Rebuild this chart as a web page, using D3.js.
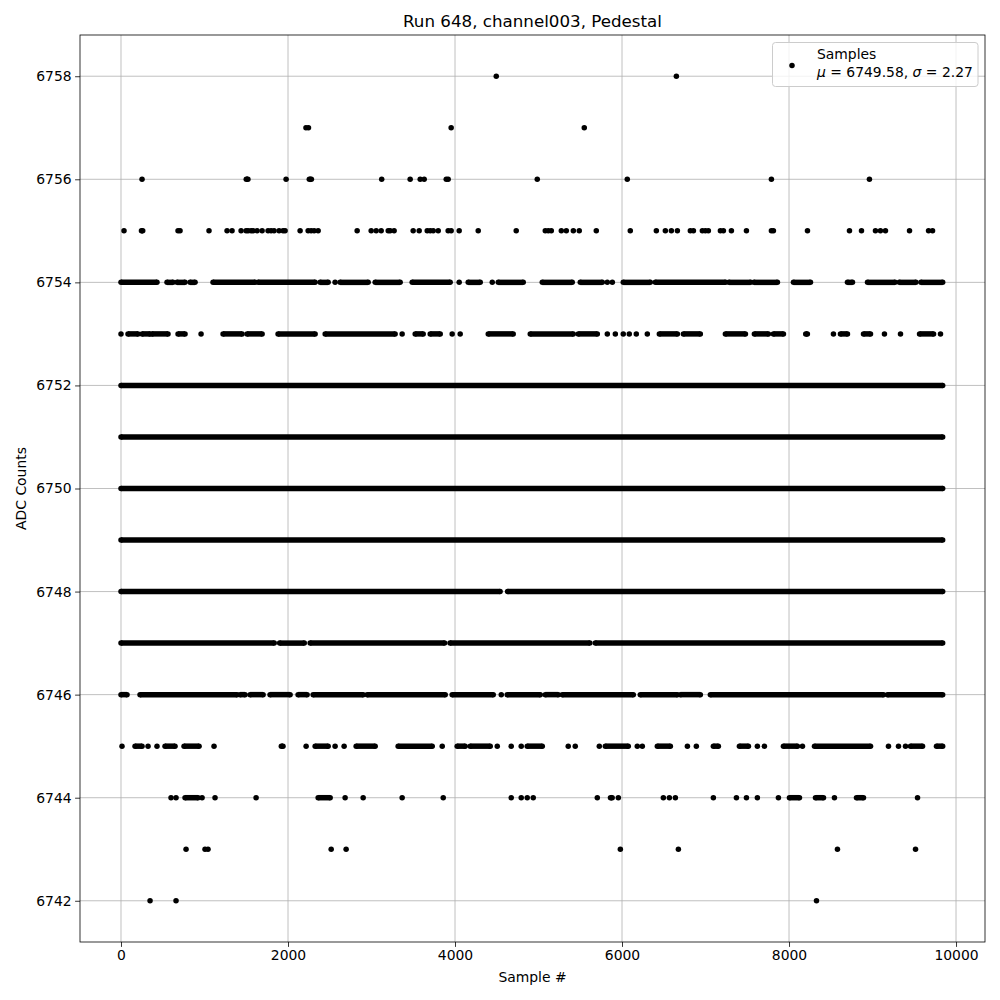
<!DOCTYPE html>
<html><head><meta charset="utf-8">
<script src="https://cdn.jsdelivr.net/npm/d3@7"></script>
<style>body{margin:0;background:#fff}svg{display:block}text{font-family:"DejaVu Sans",sans-serif}</style>
</head><body><svg id="c" width="1000" height="1000"></svg>
<script>
// Each level: list of samples (single numbers) or continuous runs [start,end] of sample indices
const adc6758 = [4494, 6651];
const adc6757 = [2215, 2245, 3954, 5548];
const adc6756 = [252, [1500,1520], 1977, [2255,2280], 3122, 3463, 3583, 3631, 3895, 3918, 4985, 6063, 7789, 8963];
const adc6755 = [36, [245,260], 683, 707, 1054, 1270, 1330, 1438, 1498, 1522, 1558, 1582, 1630, 1690, 1761, 1797, 1833, 1893, 1941, 1965, 2145, 2241, 2277, 2313, 2361, 2828, 2996, 3056, 3116, 3200, 3223, 3271, 3499, 3571, 3667, 3703, 3739, 3799, 3918, 3954, 4050, 4278, 4733, 5081, 5117, 5153, 5273, 5333, 5417, 5488, 5692, 6099, 6411, 6519, 6591, 6663, 6818, 6855, 6962, 6998, 7034, 7178, 7214, 7310, 7490, 7789, 7813, 8221, 8724, 8868, 9035, 9095, 9155, 9443, 9671, 9719];
const adc6754 = [[0,431],[551,623],[671,767],[827,887],[1102,1606],[1642,2325],[2385,2481],2564,[2624,2960],[3044,3343],[3487,3942],4050,[4158,4302],4446,[4518,4817],[5045,5404],[5500,5764],5824,5884,[6015,6339],[6399,7240],[7280,7540],[7580,7861],[8053,8257],[8700,8760],[8940,9270],[9320,9520],[9580,9840]];
const adc6753 = [0,[84,204],[252,348],[371,563],[683,767],959,[1222,1450],[1510,1690],[1881,2325],[2445,3283],3367,[3523,3619],[3703,3823],3966,4062,[4398,4697],[4901,5416],[5476,5704],5824,5920,6015,6087,6171,6303,[6447,6663],[6735,6938],[7238,7478],[7585,7753],[7813,7933],[8200,8220],8532,[8616,8700],[8892,8976],9143,9335,[9563,9731],9814];
const adc6752 = [[0,9840]];
const adc6751 = [[0,9840]];
const adc6750 = [[0,9840]];
const adc6749 = [[0,9840]];
const adc6748 = [[0,4540],[4630,9840]];
const adc6747 = [[0,1835],[1900,2195],[2265,3875],[3940,5615],[5680,9840]];
const adc6746 = [[0,72],[228,1390],[1426,1486],[1546,1702],[1785,2025],[2121,2229],[2301,2900],[2948,3883],[3966,4458],4554,[4625,5021],[5081,5237],[5285,6135],[6219,6663],[6699,6938],[7058,9131],[9179,9840]];
const adc6745 = [12,[168,252],324,431,[527,647],[755,935],1114,[1920,1940],2217,[2325,2481],2564,2672,[2816,3044],[3319,3727],3847,[4026,4122],[4182,4422],4506,4673,4793,[4865,5045],5356,5440,5728,[5800,6075],6183,6243,[6423,6579],6783,6890,[7094,7154],[7406,7514],7621,7705,[7933,8101],8161,[8305,8976],9191,9311,9395,[9455,9599],[9766,9840]];
const adc6744 = [599,659,[767,923],971,1126,1618,[2361,2505],2684,2900,3367,3859,4673,4793,4865,4937,5704,[5862,5882],5956,6495,6567,6639,7094,7370,7490,7621,7873,[8005,8125],[8317,8413],8544,[8808,8892],9539];
const adc6743 = [779, 1006, 1042, 2517, 2696, 5980, 6675, 8580, 9515];
const adc6742 = [348, 659, 8329];

const levels = [
  [6758, adc6758],[6757, adc6757],[6756, adc6756],[6755, adc6755],[6754, adc6754],
  [6753, adc6753],[6752, adc6752],[6751, adc6751],[6750, adc6750],[6749, adc6749],
  [6748, adc6748],[6747, adc6747],[6746, adc6746],[6745, adc6745],[6744, adc6744],
  [6743, adc6743],[6742, adc6742]
];
const xTicks = [0, 2000, 4000, 6000, 8000, 10000];
const yTicks = [6742, 6744, 6746, 6748, 6750, 6752, 6754, 6756, 6758];
const title = "Run 648, channel003, Pedestal";
const meanVal = "6749.58", sigmaVal = "2.27";

const svg = d3.select("#c");
const L = 80, R = 985, T = 35, B = 942;
const x = d3.scaleLinear().domain([-491, 10347]).range([L, R]);
const y = d3.scaleLinear().domain([6741.2, 6758.8]).range([B, T]);
const fs = 13.9;

// grid
const g = svg.append("g");
g.selectAll(".gx").data(xTicks).join("line")
  .attr("x1", d => x(d)).attr("x2", d => x(d)).attr("y1", T).attr("y2", B)
  .attr("stroke", "#b0b0b0").attr("stroke-width", 0.8);
g.selectAll(".gy").data(yTicks).join("line")
  .attr("y1", d => y(d)).attr("y2", d => y(d)).attr("x1", L).attr("x2", R)
  .attr("stroke", "#b0b0b0").attr("stroke-width", 0.8);

// marks
const r = 2.75;
const segs = [];
levels.forEach(([v, arr]) => arr.forEach(e => {
  const [a, b] = Array.isArray(e) ? e : [e, e];
  segs.push({v, a, b});
}));
const m = svg.append("g");
m.selectAll("line.run").data(segs.filter(s => s.b > s.a)).join("line")
  .attr("x1", d => x(d.a)).attr("x2", d => x(d.b))
  .attr("y1", d => y(d.v)).attr("y2", d => y(d.v))
  .attr("stroke", "#000").attr("stroke-width", 2 * r);
const ends = [];
segs.forEach(s => { ends.push({v: s.v, s: s.a}); if (s.b > s.a) ends.push({v: s.v, s: s.b}); });
m.selectAll("circle").data(ends).join("circle")
  .attr("cx", d => x(d.s)).attr("cy", d => y(d.v)).attr("r", r).attr("fill", "#000");

// axes
const ax = svg.append("g").attr("transform", `translate(0,${B})`)
  .call(d3.axisBottom(x).tickValues(xTicks).tickFormat(d3.format("d")).tickSize(4.9).tickPadding(3.5));
const ay = svg.append("g").attr("transform", `translate(${L},0)`)
  .call(d3.axisLeft(y).tickValues(yTicks).tickFormat(d3.format("d")).tickSize(4.9).tickPadding(3.5));
[ax, ay].forEach(a => {
  a.select(".domain").remove();
  a.selectAll(".tick line").attr("stroke", "#000").attr("stroke-width", 0.8);
  a.selectAll(".tick text").attr("font-size", fs).attr("fill", "#000").attr("font-family", "DejaVu Sans");
});
svg.append("rect").attr("x", L).attr("y", T).attr("width", R - L).attr("height", B - T)
  .attr("fill", "none").attr("stroke", "#000").attr("stroke-width", 0.8);

// labels
svg.append("text").attr("x", (L + R) / 2).attr("y", 27).attr("text-anchor", "middle")
  .attr("font-size", 16.7).text(title);
svg.append("text").attr("x", (L + R) / 2).attr("y", 982).attr("text-anchor", "middle")
  .attr("font-size", fs).text("Sample #");
svg.append("text").attr("transform", `translate(26,${(T + B) / 2}) rotate(-90)`).attr("text-anchor", "middle")
  .attr("font-size", fs).text("ADC Counts");

// legend
const lg = svg.append("g");
lg.append("rect").attr("x", 772.5).attr("y", 42.5).attr("width", 205.5).attr("height", 44).attr("rx", 3)
  .attr("fill", "#fff").attr("fill-opacity", 0.8).attr("stroke", "#cccccc").attr("stroke-width", 1);
lg.append("circle").attr("cx", 792).attr("cy", 65.5).attr("r", r).attr("fill", "#000");
lg.append("text").attr("x", 817).attr("y", 59).attr("font-size", fs).text("Samples");
const t2 = lg.append("text").attr("x", 817).attr("y", 77).attr("font-size", fs);
t2.append("tspan").attr("font-style", "italic").text("μ");
t2.append("tspan").text(" = " + meanVal + ", ");
t2.append("tspan").attr("font-style", "italic").text("σ");
t2.append("tspan").text(" = " + sigmaVal);
</script></body></html>
